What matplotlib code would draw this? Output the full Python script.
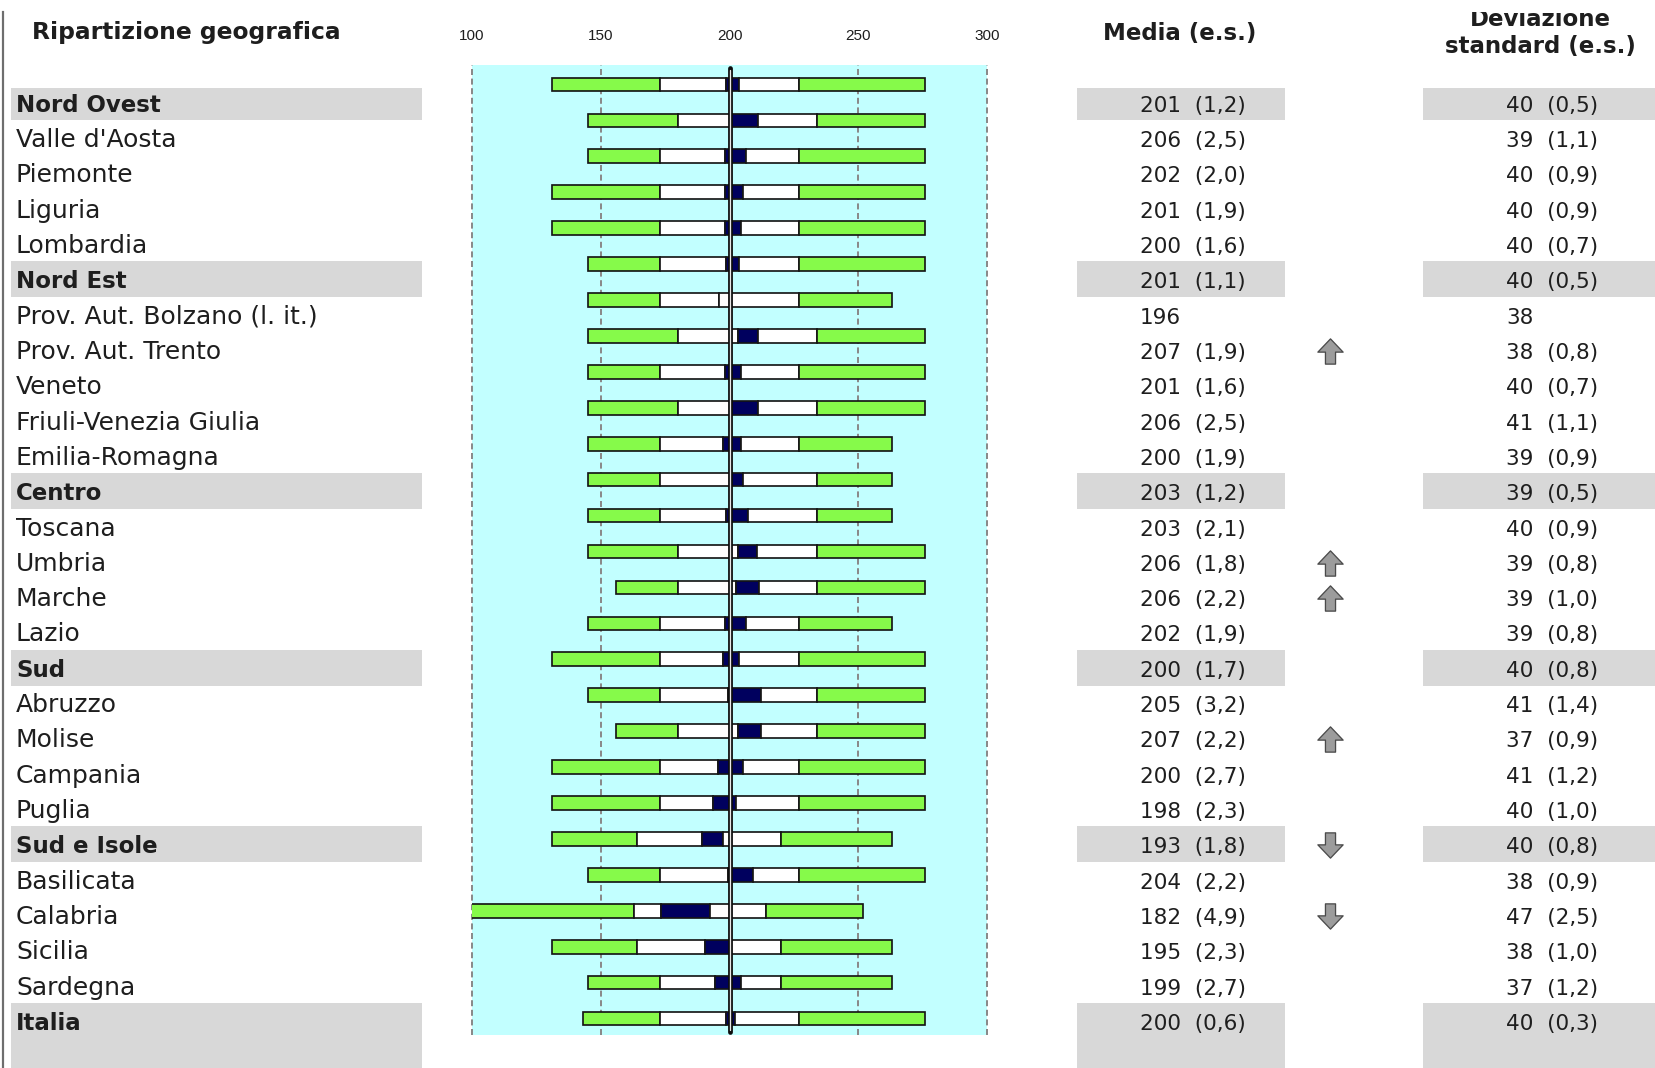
import numpy as np
import matplotlib
matplotlib.use("Agg")
import matplotlib.pyplot as plt
from matplotlib.patches import Rectangle
from matplotlib.path import Path

# ---------------- data ----------------
regions = ["Nord Ovest", "Valle d'Aosta", "Piemonte", "Liguria", "Lombardia",
           "Nord Est", "Prov. Aut. Bolzano (l. it.)", "Prov. Aut. Trento", "Veneto",
           "Friuli-Venezia Giulia", "Emilia-Romagna", "Centro", "Toscana", "Umbria",
           "Marche", "Lazio", "Sud", "Abruzzo", "Molise", "Campania", "Puglia",
           "Sud e Isole", "Basilicata", "Calabria", "Sicilia", "Sardegna", "Italia"]
is_group = [1, 0, 0, 0, 0, 1, 0, 0, 0, 0, 0, 1, 0, 0, 0, 0, 1, 0, 0, 0, 0, 1, 0, 0, 0, 0, 1]

p5 = [131, 145, 145, 131, 131, 145, 145, 145, 145, 145, 145, 145, 145, 145,
      156, 145, 131, 145, 156, 131, 131, 131, 145, 96, 131, 145, 143]
p25 = [173, 180, 173, 173, 173, 173, 173, 180, 173, 180, 173, 173, 173, 180,
       180, 173, 173, 173, 180, 173, 173, 164, 173, 163, 164, 173, 173]
ci_lo = [198.8, 200.8, 198.2, 198.2, 198.2, 198.8, np.nan, 203.4, 198.2, 200.8, 197.5,
         200.8, 198.8, 203.4, 202.5, 198.2, 197.3, 199.5, 203.4, 195.6, 193.4, 189.5,
         199.5, 173.4, 190.4, 194.3, 198.8]
ci_hi = [203.7, 211.1, 206.3, 205.3, 204.4, 203.7, np.nan, 211.1, 204.4, 211.1, 204.4,
         205.3, 207.2, 210.5, 211.4, 206.3, 203.7, 212.1, 212.1, 205.3, 202.7, 197.5,
         209.2, 192.6, 200.4, 204.4, 202.1]
p75 = [227, 234, 227, 227, 227, 227, 227, 234, 227, 234, 227, 234, 234, 234,
       234, 227, 227, 234, 234, 227, 227, 220, 227, 214, 220, 220, 227]
p95 = [276, 276, 276, 276, 276, 276, 263, 276, 276, 276, 263, 263, 263, 276,
       276, 263, 276, 276, 276, 276, 276, 263, 276, 252, 263, 263, 276]

means = [201, 206, 202, 201, 200, 201, 196, 207, 201, 206, 200, 203, 203, 206,
         206, 202, 200, 205, 207, 200, 198, 193, 204, 182, 195, 199, 200]
mean_se = [1.2, 2.5, 2.0, 1.9, 1.6, 1.1, None, 1.9, 1.6, 2.5, 1.9, 1.2, 2.1, 1.8,
           2.2, 1.9, 1.7, 3.2, 2.2, 2.7, 2.3, 1.8, 2.2, 4.9, 2.3, 2.7, 0.6]
sds = [40, 39, 40, 40, 40, 40, 38, 38, 40, 41, 39, 39, 40, 39,
       39, 39, 40, 41, 37, 41, 40, 40, 38, 47, 38, 37, 40]
sd_se = [0.5, 1.1, 0.9, 0.9, 0.7, 0.5, None, 0.8, 0.7, 1.1, 0.9, 0.5, 0.9, 0.8,
         1.0, 0.8, 0.8, 1.4, 0.9, 1.2, 1.0, 0.8, 0.9, 2.5, 1.0, 1.2, 0.3]
trend = [0, 0, 0, 0, 0, 0, 0, 1, 0, 0, 0, 0, 0, 1, 1, 0, 0, 0, 1, 0, 0, -1, 0, -1, 0, 0, 0]

ticks = [100, 150, 200, 250, 300]
reference_mean = 200

# ---------------- style ----------------
GREEN = "#86fa4a"
NAVY = "#00005e"
CYAN = "#c2ffff"
BAND = "#d8d8d8"
EDGE = "#151515"
TXT = "#1e1e1e"
PX = 0.72  # points per pixel at dpi 100

W, H = 1655, 1068
fig = plt.figure(figsize=(W / 100, H / 100), dpi=100)
fig.patch.set_facecolor("white")

bg = fig.add_axes([0, 0, 1, 1])
bg.set_xlim(0, W)
bg.set_ylim(H, 0)
bg.axis("off")

n = len(regions)
lab_y = np.linspace(103.4, 1021.7, n)

# grey bands for group rows
band_cols = [(11, 422), (1077, 1285), (1423, 1655)]
for i in range(n):
    if is_group[i]:
        top = lab_y[i] - (15 if i == 0 else 19)
        bot = H if i == n - 1 else lab_y[i] + 17
        for x0, x1 in band_cols:
            bg.add_patch(Rectangle((x0, top), x1 - x0, bot - top, facecolor=BAND,
                                   edgecolor="none", zorder=0))

# left border line
bg.plot([3, 3], [12, H], color="#6e6e6e", lw=2.2 * PX, zorder=1)

# headers
bg.text(32, 39, "Ripartizione geografica", fontsize=16.8, fontweight="bold",
        color=TXT, va="baseline", ha="left")
bg.text(1180, 40, "Media (e.s.)", fontsize=16.5, fontweight="bold",
        color=TXT, va="baseline", ha="center")
bg.text(1540, 26, "Deviazione", fontsize=16.5, fontweight="bold",
        color=TXT, va="baseline", ha="center", zorder=2)
bg.add_patch(Rectangle((1430, 0), 220, 12, facecolor="white", edgecolor="none",
                       zorder=5))
bg.text(1540, 53, "standard (e.s.)", fontsize=16.5, fontweight="bold",
        color=TXT, va="baseline", ha="center")

def fmt(v):
    return ("%.1f" % v).replace(".", ",")

for i in range(n):
    yb = lab_y[i] + 8.3
    bg.text(16, yb, regions[i], fontsize=16.5 if is_group[i] else 18,
            fontweight="bold" if is_group[i] else "normal",
            color=TXT, va="baseline", ha="left")
    m_txt = str(means[i]) if mean_se[i] is None else "%d  (%s)" % (means[i], fmt(mean_se[i]))
    s_txt = str(sds[i]) if sd_se[i] is None else "%d  (%s)" % (sds[i], fmt(sd_se[i]))
    bg.text(1140, yb, m_txt, fontsize=15.5, color=TXT, va="baseline", ha="left")
    bg.text(1506, yb, s_txt, fontsize=15.5, color=TXT, va="baseline", ha="left")

# trend arrows
up_verts = [(0, 1), (1, -0.05), (0.4, -0.05), (0.4, -1), (-0.4, -1), (-0.4, -0.05),
            (-1, -0.05), (0, 1)]
up_codes = [Path.MOVETO] + [Path.LINETO] * 6 + [Path.CLOSEPOLY]
up_path = Path(up_verts, up_codes)
down_path = Path([(x, -y) for x, y in up_verts], up_codes)
for i in range(n):
    if trend[i] != 0:
        bg.scatter([1330], [lab_y[i]], marker=up_path if trend[i] > 0 else down_path,
                   s=330, facecolor="#9c9c9c", edgecolor="#4a4a4a",
                   linewidths=1.3 * PX, zorder=3)

# ---------------- percentile bar panel ----------------
ax = fig.add_axes([472 / W, 1 - 1035 / H, 515 / W, 970 / H])
ax.set_facecolor(CYAN)
ax.set_xlim(ticks[0], ticks[-1])
row_y0, row_y1 = 84.4, 1018.6
step = (row_y1 - row_y0) / (n - 1)
ax.set_ylim((1035 - row_y0) / step, (65 - row_y0) / step)
for s in ax.spines.values():
    s.set_visible(False)
ax.set_yticks([])
ax.xaxis.tick_top()
ax.set_xticks(ticks)
ax.set_xticklabels([str(t) for t in ticks], fontfamily="Liberation Sans",
                   fontsize=11, color=TXT)
ax.tick_params(axis="x", length=0, pad=15.5)

for v in ticks:
    if v == reference_mean:
        continue
    ax.axvline(v, color="#8a8a8a", lw=2 * PX, ls=(0, (3, 1.8)), zorder=1,
               clip_on=False)

bar_h = 0.38
for i in range(n):
    if np.isnan(ci_lo[i]):
        segs = [(p5[i], p25[i], GREEN), (p25[i], means[i], "white"),
                (means[i], p75[i], "white"), (p75[i], p95[i], GREEN)]
    else:
        segs = [(p5[i], p25[i], GREEN), (p25[i], ci_lo[i], "white"),
                (ci_lo[i], ci_hi[i], NAVY), (ci_hi[i], p75[i], "white"),
                (p75[i], p95[i], GREEN)]
    for a, b, c in segs:
        ax.barh(i, b - a, left=a, height=bar_h, color=c, edgecolor=EDGE,
                linewidth=1.7 * PX, zorder=3)

ax.axvline(reference_mean, ymin=0.003, ymax=0.997, color="#0d0d0d", lw=4.8 * PX,
           solid_capstyle="round", zorder=5)
ax.axvline(reference_mean, ymin=0.005, ymax=0.995, color="#e8e8e8", lw=1.3 * PX,
           solid_capstyle="round", zorder=6)

fig.savefig("out.png", dpi=100, facecolor="white")
